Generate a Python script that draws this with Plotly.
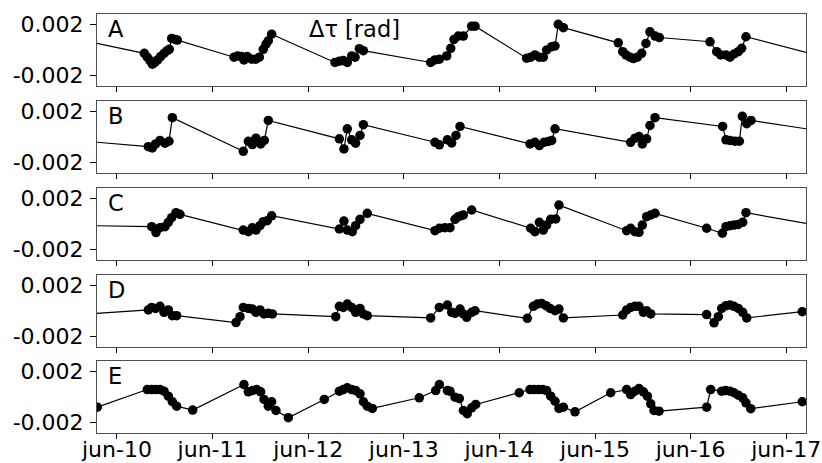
import numpy as np
import pandas as pd
import plotly.graph_objects as go

BASE = pd.Timestamp("2023-06-10")
panel_labels = ["A", "B", "C", "D", "E"]
tick_days = [0, 1, 2, 3, 4, 5, 6, 7]
tick_labels = ["jun-10", "jun-11", "jun-12", "jun-13", "jun-14", "jun-15", "jun-16", "jun-17"]
y_tick_vals = [-0.002, 0.002]
y_tick_text = ["-0.002", "0.002"]
y_title = "Δτ [rad]"

# times: days since jun-10 00:00 ; values: 1e-3 rad
a_t = [-0.35, 0.286, 0.317, 0.345, 0.370, 0.397, 0.425, 0.457, 0.492, 0.526, 0.547, 0.572, 0.607, 0.631,
       1.224, 1.262, 1.304, 1.328, 1.363, 1.409, 1.451, 1.489, 1.530, 1.559, 1.583, 1.618,
       2.280, 2.326, 2.367, 2.409, 2.455, 2.490, 2.535, 2.577,
       3.281, 3.326, 3.372, 3.449, 3.491, 3.525, 3.570, 3.623, 3.710, 3.745,
       4.285, 4.327, 4.372, 4.418, 4.459, 4.494, 4.547, 4.582, 4.616, 4.669,
       5.244, 5.290, 5.324, 5.366, 5.401, 5.443, 5.488, 5.533, 5.575, 5.628, 5.673,
       6.203, 6.273, 6.315, 6.370, 6.412, 6.454, 6.499, 6.534, 6.579,
       7.35]
a_v = [0.73, -0.26, -0.56, -0.82, -1.10, -0.97, -0.77, -0.51, -0.26, -0.05, 0.05, 0.90, 0.82, 0.77,
       -0.56, -0.46, -0.51, -0.77, -0.51, -0.72, -0.72, -0.56, 0.05, 0.46, 0.72, 1.23,
       -0.97, -0.87, -0.82, -0.97, -0.46, -0.56, 0.10, -0.05,
       -0.97, -0.77, -0.72, -0.46, 0.13, 0.82, 1.08, 1.08, 1.85, 1.85,
       -0.64, -0.56, -0.38, -0.56, -0.56, 0.0, 0.26, 0.31, 2.0, 1.74,
       0.56, -0.13, -0.38, -0.56, -0.67, -0.56, -0.26, 0.51, 1.41, 1.08, 0.97,
       0.64, -0.13, -0.38, -0.38, -0.56, -0.31, -0.13, 0.13, 1.03,
       -0.46]

b_t = [-0.35, 0.328, 0.370, 0.404, 0.450, 0.502, 0.544, 0.579,
       1.321, 1.374, 1.416, 1.454, 1.503, 1.541, 1.583,
       2.326, 2.374, 2.409, 2.455, 2.496, 2.542, 2.577,
       3.326, 3.372, 3.456, 3.501, 3.546, 3.588,
       4.320, 4.372, 4.418, 4.467, 4.512, 4.547, 4.582,
       5.373, 5.418, 5.460, 5.495, 5.540, 5.575, 5.628,
       6.335, 6.370, 6.412, 6.464, 6.510, 6.541, 6.587, 6.632,
       7.35]
b_v = [-0.32, -0.75, -0.85, -0.54, -0.27, -0.48, -0.33, 1.50,
       -1.11, -0.33, -0.59, -0.09, -0.54, -0.27, 1.29,
       -0.14, -0.93, 0.64, -0.22, -0.48, 0.12, 0.96,
       -0.41, -0.61, -0.22, -0.46, 0.12, 0.82,
       -0.54, -0.41, -0.67, -0.41, -0.35, -0.27, 0.64,
       -0.41, -0.09, 0.04, -0.54, -0.14, 0.90, 1.50,
       0.82, -0.22, -0.27, -0.33, -0.33, 1.61, 1.04, 1.29,
       0.48]

c_t = [-0.35, 0.363, 0.408, 0.450, 0.502, 0.537, 0.572, 0.617, 0.659,
       1.321, 1.374, 1.416, 1.454, 1.496, 1.530, 1.572, 1.618,
       2.326, 2.374, 2.409, 2.461, 2.496, 2.542, 2.618,
       3.326, 3.372, 3.430, 3.483, 3.536, 3.570, 3.600, 3.623, 3.710,
       4.327, 4.372, 4.418, 4.459, 4.494, 4.537, 4.589, 4.623,
       5.331, 5.373, 5.418, 5.460, 5.495, 5.540, 5.583, 5.628,
       6.168, 6.332, 6.370, 6.412, 6.454, 6.499, 6.545, 6.579,
       7.35]
c_v = [-0.12, -0.21, -0.67, -0.29, -0.21, 0.13, 0.49, 0.88, 0.75,
       -0.47, -0.60, -0.29, -0.47, -0.13, 0.18, 0.26, 0.64,
       -0.39, 0.23, -0.47, -0.60, -0.13, 0.36, 0.83,
       -0.52, -0.33, -0.29, -0.29, 0.36, 0.57, 0.65, 0.70, 1.09,
       -0.33, -0.60, 0.13, -0.47, -0.08, 0.36, 0.39, 1.47,
       -0.52, -0.33, -0.60, -0.65, -0.08, 0.57, 0.70, 0.83,
       -0.33, -0.72, -0.21, -0.13, -0.08, -0.03, 0.13, 0.88,
       -0.14]

d_t = [-0.35, 0.328, 0.363, 0.404, 0.450, 0.492, 0.537, 0.579, 0.624,
       1.245, 1.287, 1.321, 1.374, 1.416, 1.454, 1.496, 1.538, 1.583, 1.625,
       2.288, 2.326, 2.367, 2.409, 2.455, 2.496, 2.542, 2.577, 2.618,
       3.281, 3.372, 3.456, 3.501, 3.536, 3.588, 3.623, 3.658, 3.710, 3.745,
       4.292, 4.355, 4.397, 4.442, 4.488, 4.530, 4.582, 4.623, 4.669,
       5.290, 5.331, 5.373, 5.418, 5.460, 5.506, 5.540, 5.583,
       6.168, 6.245, 6.290, 6.325, 6.370, 6.412, 6.454, 6.499, 6.545, 6.587,
       7.168]
d_v = [-0.25, 0.08, 0.28, 0.20, 0.36, -0.10, 0.08, -0.36, -0.36,
       -0.90, -0.44, 0.28, 0.20, 0.15, -0.10, 0.08, -0.23, -0.18, -0.23,
       -0.44, 0.36, 0.28, 0.54, 0.28, -0.10, 0.20, -0.23, -0.36,
       -0.54, 0.28, 0.46, -0.10, -0.18, 0.15, -0.23, -0.49, -0.10, 0.02,
       -0.57, 0.36, 0.54, 0.59, 0.41, 0.20, 0.02, 0.15, -0.54,
       -0.31, 0.08, 0.28, 0.36, 0.36, -0.10, 0.02, -0.23,
       -0.28, -0.92, -0.44, 0.20, 0.41, 0.46, 0.36, 0.20, -0.10, -0.54,
       -0.05]

e_t = [-0.206, 0.317, 0.363, 0.404, 0.450, 0.492, 0.537, 0.579, 0.624, 0.792,
       1.328, 1.374, 1.416, 1.461, 1.503, 1.538, 1.583, 1.618, 1.663, 1.792,
       2.168, 2.326, 2.367, 2.409, 2.455, 2.496, 2.542, 2.577, 2.618, 2.671,
       3.162, 3.334, 3.372, 3.456, 3.483, 3.536, 3.581, 3.623, 3.664, 3.710, 3.752,
       4.208, 4.320, 4.362, 4.407, 4.453, 4.494, 4.537, 4.582, 4.623, 4.669, 4.791,
       5.164, 5.331, 5.373, 5.418, 5.460, 5.506, 5.548, 5.583, 5.617, 5.670,
       6.168, 6.210, 6.325, 6.367, 6.412, 6.454, 6.499, 6.545, 6.579, 6.629,
       7.168]
e_v = [-0.79, 0.58, 0.58, 0.58, 0.58, 0.45, 0.06, -0.37, -0.71, -1.02,
       0.97, 0.40, 0.50, 0.58, 0.40, -0.19, -0.71, -0.37, -1.05, -1.61,
       -0.19, 0.45, 0.58, 0.71, 0.58, 0.50, 0.25, -0.37, -0.71, -0.89,
       -0.06, 0.50, 0.97, 0.50, 0.45, -0.02, -0.12, -1.05, -1.30, -0.84, -0.58,
       0.33, 0.58, 0.58, 0.58, 0.58, 0.50, 0.06, -0.33, -0.89, -0.79, -1.15,
       0.33, 0.58, 0.19, 0.45, 0.66, 0.40, 0.06, -0.53, -1.05, -1.10,
       -0.79, 0.58, 0.45, 0.50, 0.45, 0.33, 0.14, -0.06, -0.45, -0.91,
       -0.37]

series = [(a_t, a_v), (b_t, b_v), (c_t, c_v), (d_t, d_v), (e_t, e_v)]

W, H = 822, 463
M_L, M_R, M_T, M_B = 97, 16, 14, 30
ph = H - M_T - M_B
# panel pixel extents (top, bottom) in figure coords
panel_px = [(14, 86), (101, 173), (188, 260), (275, 347), (361, 433)]

def days(t):
    return BASE + pd.to_timedelta(np.asarray(t, dtype=float), unit="D")

x_range = [days([-0.209])[0], days([7.207])[0]]
tick_dates = list(days(tick_days))

FONT = "DejaVu Sans"
BORDER = "#4d4d4d"
TICK_SIZE = 22
TEXT_SIZE = 22.5

fig = go.Figure()
layout = dict(
    width=W, height=H,
    margin=dict(l=M_L, r=M_R, t=M_T, b=M_B),
    paper_bgcolor="white", plot_bgcolor="white",
    showlegend=False,
    font=dict(family=FONT, size=TEXT_SIZE, color="black"),
)

annotations = []
for i, ((t, v), lab) in enumerate(zip(series, panel_labels)):
    n = i + 1
    xa = "x" if n == 1 else f"x{n}"
    ya = "y" if n == 1 else f"y{n}"
    fig.add_trace(go.Scatter(
        x=days(t), y=np.asarray(v) * 1e-3,
        mode="lines+markers",
        line=dict(color="black", width=1.2),
        marker=dict(color="black", size=9.5),
        xaxis=xa, yaxis=ya,
    ))
    top, bot = panel_px[i]
    dom = [(H - M_B - bot) / ph, (H - M_B - top) / ph]
    layout[f"xaxis{'' if n == 1 else n}"] = dict(
        type="date", range=x_range, domain=[0, 1], anchor=ya,
        matches=None if n == 1 else "x",
        tickvals=tick_dates, ticktext=tick_labels,
        showticklabels=(n == 5),
        ticks="outside", ticklen=5, tickwidth=1, tickcolor="black",
        showline=True, linecolor=BORDER, linewidth=1, mirror=True,
        showgrid=False, zeroline=False, automargin=False,
        tickfont=dict(family=FONT, size=TICK_SIZE, color="black"),
        ticklabelstandoff=-8,
    )
    layout[f"yaxis{'' if n == 1 else n}"] = dict(
        range=[-0.0028, 0.0028], domain=dom, anchor=xa,
        tickvals=y_tick_vals, ticktext=y_tick_text,
        ticks="outside", ticklen=6, tickwidth=1, tickcolor="black",
        showline=True, linecolor=BORDER, linewidth=1, mirror=True,
        showgrid=False, zeroline=False, automargin=False,
        tickfont=dict(family=FONT, size=TICK_SIZE, color="black"),
        ticklabelstandoff=2,
    )
    annotations.append(dict(
        text=lab, xref=f"{xa} domain", yref=f"{ya} domain",
        x=0.012, y=1.0, xanchor="left", yanchor="top", showarrow=False,
        font=dict(family=FONT, size=TEXT_SIZE, color="black"),
    ))

annotations.append(dict(
    text=y_title, xref="x domain", yref="y domain",
    x=0.3625, y=1.0, xanchor="center", yanchor="top", showarrow=False,
    font=dict(family=FONT, size=TEXT_SIZE, color="black"),
))
layout["annotations"] = annotations
fig.update_layout(**layout)
fig.write_html("out.html")
